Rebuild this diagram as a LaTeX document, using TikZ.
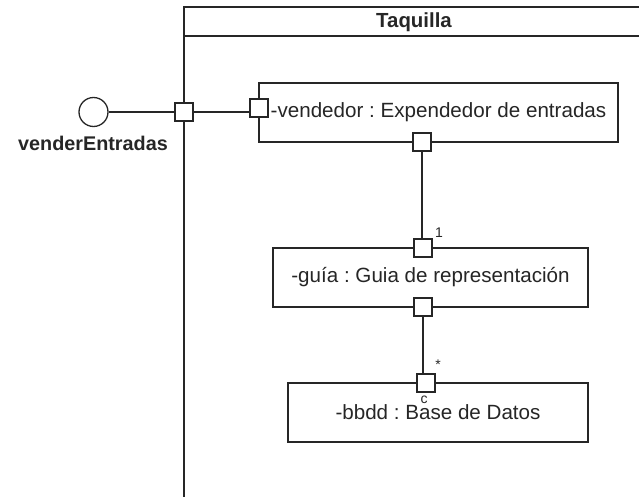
\documentclass[tikz,border=0pt]{standalone}
\usepackage{fontspec}
\setmainfont{Liberation Sans}
\usetikzlibrary{positioning}
\frenchspacing
\tikzset{
    port/.style={draw, fill=white, minimum size=18pt, inner sep=0pt},
    part/.style={draw, fill=white, inner sep=0pt, font=\fontsize{20.6}{24}\selectfont},
    tag/.style={inner sep=0pt, font=\fontsize{14}{16}\selectfont}
}
\begin{document}
\begin{tikzpicture}[x=1pt, y=-1pt, line width=1.2pt, draw=black!85, text=black!85]
    \useasboundingbox (0,0) rectangle (639,497);
    % Frame
    \draw (639,7) -- (184,7) -- (184,497); % frame of Taquilla
    \draw (184,36) -- (639,36);
    \node[font=\bfseries\fontsize{20.4}{24}\selectfont] (title) at (414,22) {Taquilla};
    % Parts
    \node[part, minimum width=359pt, minimum height=59pt] (vendedor) at (438.5,112.5) {-vendedor : Expendedor de entradas};
    \node[part, minimum width=315pt, minimum height=59pt] (guia) at (430.5,277.5) {-guía : Guia de representación\hspace{10pt}};
    \node[part, minimum width=300pt, minimum height=59pt] (bbdd) at (438,412.5) {-bbdd : Base de Datos\hspace{9pt}};
    % Interface
    \node[draw, circle, line width=1.3pt, minimum size=29pt, inner sep=0pt] (iface) at (93.5,112) {};
    \node[font=\bfseries\fontsize{19.8}{24}\selectfont] (ifaceName) at (93,143) {venderEntradas};
    % Ports
    \node[port] (pBound) at (184,112) {};
    \node[port] (pVendL) at (259,108) {};
    \node[port] (pVendB) at (422,142) {};
    \node[port] (pGuiaT) at (423,248) {};
    \node[port] (pGuiaB) at (423,307) {};
    \node[port] (pBbddT) at (426,383) {};
    % Connectors
    \draw (iface.east) -- (pBound.west);
    \draw (pBound.east) -- (pBound.east -| pVendL.west);
    \draw (pVendB.south) -- (pVendB.south |- pGuiaT.north);
    \draw (pGuiaB.south) -- (pGuiaB.south |- pBbddT.north);
    % Multiplicities
    \node[tag] (one) at (439,233) {1};
    \node[tag] (many) at (438,365) {*};
    \node[tag] (cc) at (424,400) {c};
\end{tikzpicture}
\end{document}
